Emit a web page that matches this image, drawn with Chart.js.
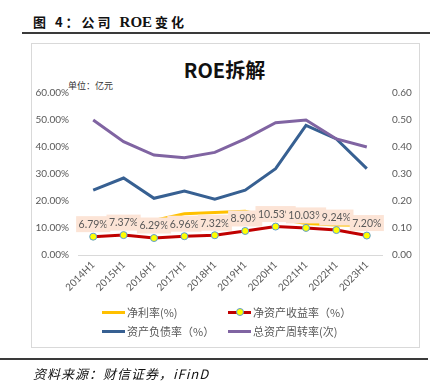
<!DOCTYPE html>
<html>
<head>
<meta charset="utf-8">
<script src="https://cdn.jsdelivr.net/npm/chart.js@4"></script>
<style>
  html, body { margin: 0; padding: 0; background: #fff; }
  body { width: 437px; height: 391px; position: relative; overflow: hidden; font-family: "Noto Sans CJK SC", sans-serif; }
  .fig-title { position: absolute; left: 33px; top: 12px; font-size: 13px; font-weight: bold; color: #111; letter-spacing: 3px; white-space: nowrap; }
  .fig-title .en { font-family: "Liberation Serif", serif; font-size: 15px; letter-spacing: 0; margin-right: 3px; }
  .rule { position: absolute; height: 2px; background: #3a3a3a; }
  .box { position: absolute; left: 31px; top: 43px; width: 387px; height: 303px; border: 1px solid #d9d9d9; }
  .chart-title { position: absolute; left: 0; width: 449px; top: 55px; text-align: center; font-size: 20px; font-weight: bold; color: #111; }
  .unit { position: absolute; left: 68px; top: 79px; font-size: 9px; color: #333; }
  canvas { position: absolute; left: 0; top: 0; }
  .legend-item { position: absolute; font-size: 11px; color: #595959; white-space: nowrap; height: 14px; line-height: 14px; }
  .legend-item .sw { position: absolute; left: 0; top: 6px; width: 23px; height: 3px; }
  .legend-item .dot { position: absolute; left: 8px; top: 3px; width: 6px; height: 6px; border-radius: 50%; background: #ffff00; border: 1px solid #5b9bd5; }
  .legend-item span.t { position: absolute; left: 25px; top: 0; }
  .source { position: absolute; left: 33px; top: 364px; font-size: 13px; font-style: italic; color: #111; white-space: nowrap; letter-spacing: 1px; }
</style>
</head>
<body>
<div class="fig-title">图 4：公司 <span class="en">ROE</span>变化</div>
<div class="rule" style="left:22px; top:32px; width:408px;"></div>
<div class="box"></div>
<div class="chart-title">ROE拆解</div>
<div class="unit">单位：亿元</div>
<canvas id="chart" width="437" height="391"></canvas>
<div class="legend-item" style="left:102px; top:305px;"><div class="sw" style="background:#ffc000"></div><span class="t">净利率(%)</span></div>
<div class="legend-item" style="left:228px; top:305px;"><div class="sw" style="background:#c00000"></div><div class="dot"></div><span class="t">净资产收益率（%）</span></div>
<div class="legend-item" style="left:102px; top:324px;"><div class="sw" style="background:#376092"></div><span class="t">资产负债率（%）</span></div>
<div class="legend-item" style="left:228px; top:324px;"><div class="sw" style="background:#8064a2"></div><span class="t">总资产周转率(次)</span></div>
<div class="rule" style="left:0; top:358px; width:428px;"></div>
<div class="source">资料来源：财信证券，iFinD</div>

<script>
// ROE breakdown, 2014H1 - 2023H1
const periods = ['2014H1', '2015H1', '2016H1', '2017H1', '2018H1', '2019H1', '2020H1', '2021H1', '2022H1', '2023H1'];
const netMargin = [11.5, 12.0, 12.8, 15.3, 15.7, 16.2, 13.5, 11.7, 11.1, 11.0];       // %
const roe = [6.79, 7.37, 6.29, 6.96, 7.32, 8.90, 10.53, 10.03, 9.24, 7.20];            // %
const debtRatio = [24.0, 28.5, 21.0, 23.7, 20.7, 24.0, 32.0, 48.0, 43.0, 32.0];      // %
const assetTurnover = [0.50, 0.42, 0.37, 0.36, 0.38, 0.43, 0.49, 0.50, 0.43, 0.40];   // times
const leftTicks = [0, 10, 20, 30, 40, 50, 60];

const tickFont = { family: 'Lato', size: 10 };
const tickColor = '#595959';

// draws the peach value boxes above the ROE points
const roeLabels = {
  id: 'roeLabels',
  afterDatasetsDraw(chart) {
    const meta = chart.getDatasetMeta(1);
    const ctx = chart.ctx;
    ctx.save();
    ctx.font = '10.5px Lato';
    ctx.textAlign = 'center';
    ctx.textBaseline = 'middle';
    meta.data.forEach((pt, i) => {
      const txt = roe[i].toFixed(2) + '%';
      const w = ctx.measureText(txt).width + 5;
      const cy = pt.y - 12.5;
      ctx.fillStyle = '#fce4d6';
      ctx.fillRect(pt.x - w / 2, cy - 8, w, 16);
      ctx.fillStyle = '#595959';
      ctx.fillText(txt, pt.x, cy + 0.5);
    });
    ctx.restore();
  }
};

new Chart(document.getElementById('chart'), {
  type: 'line',
  data: {
    labels: periods,
    datasets: [
      { label: '净利率(%)', data: netMargin, yAxisID: 'y', borderColor: '#ffc000', borderWidth: 3, pointRadius: 0, order: 4 },
      { label: '净资产收益率（%）', data: roe, yAxisID: 'y', borderColor: '#c00000', borderWidth: 3,
        pointRadius: 3.5, pointBackgroundColor: '#ffff00', pointBorderColor: '#5b9bd5', pointBorderWidth: 1, order: 1 },
      { label: '资产负债率（%）', data: debtRatio, yAxisID: 'y', borderColor: '#376092', borderWidth: 3, pointRadius: 0, order: 3 },
      { label: '总资产周转率(次)', data: assetTurnover, yAxisID: 'y1', borderColor: '#8064a2', borderWidth: 3, pointRadius: 0, order: 2 }
    ]
  },
  options: {
    responsive: false,
    animation: false,
    layout: { padding: { left: 30, right: 15, top: 93, bottom: 96 } },
    plugins: { legend: { display: false }, title: { display: false }, tooltip: { enabled: false } },
    scales: {
      x: {
        offset: true,
        grid: { display: false, drawTicks: false },
        border: { display: true, color: '#d9d9d9', width: 1 },
        ticks: { color: tickColor, font: tickFont, maxRotation: 45, minRotation: 45, autoSkip: false, padding: 4 },
        afterFit: s => { s.height = 40; }
      },
      y: {
        position: 'left', min: 0, max: 60,
        grid: { display: false, drawTicks: false },
        border: { display: false },
        afterBuildTicks: s => { s.ticks = leftTicks.map(v => ({ value: v })); },
        ticks: { color: tickColor, font: tickFont, padding: 9, callback: v => v.toFixed(2) + '%' },
        afterFit: s => { s.width = 48; }
      },
      y1: {
        position: 'right', min: 0, max: 0.6,
        grid: { display: false, drawTicks: false },
        border: { display: false },
        afterBuildTicks: s => { s.ticks = leftTicks.map(v => ({ value: v / 100 })); },
        ticks: { color: tickColor, font: tickFont, padding: 10, callback: v => v.toFixed(2) },
        afterFit: s => { s.width = 40; }
      }
    }
  },
  plugins: [roeLabels]
});
</script>
</body>
</html>
